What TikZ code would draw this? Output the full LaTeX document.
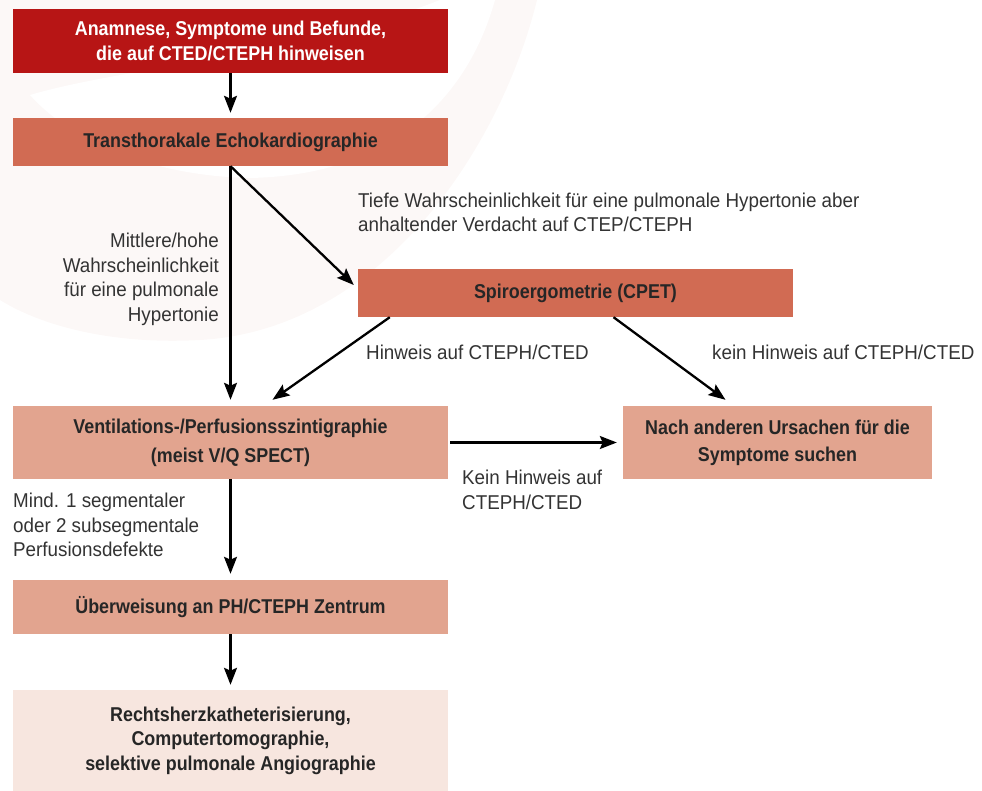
\documentclass[tikz,border=0pt]{standalone}
\usepackage{fontspec}
\usepackage{tikz}
\usetikzlibrary{arrows.meta,positioning}
\newfontfamily\labelfont[FakeStretch=0.94]{Liberation Sans}
\newfontfamily\boxfont[FakeStretch=0.895]{Liberation Sans}
\definecolor{startred}{HTML}{B71515}
\definecolor{midred}{HTML}{D16B53}
\definecolor{lightred}{HTML}{E2A48F}
\definecolor{palered}{HTML}{F7E6DF}
\definecolor{watermark}{HTML}{FCF8F7}
\definecolor{labelgray}{HTML}{333333}
\definecolor{boxtext}{HTML}{262626}

\begin{document}
\begin{tikzpicture}[x=1pt, y=-1pt, >={Stealth[length=17pt,width=13pt,inset=3pt]},
  stepbox/.style={minimum width=435pt, inner sep=0pt, align=center, text=boxtext,
    font=\boxfont\bfseries\fontsize{20}{24.5}\selectfont},
  lbl/.style={inner sep=0pt, text=labelgray, font=\labelfont\fontsize{20}{24.5}\selectfont},
  flow/.style={->, line width=2.3pt}]
\useasboundingbox (0,0) rectangle (982,791);
% watermark in the background
\fill[watermark] (0,0) -- (537,0) .. controls (500,150) and (380,330) .. (200,340)
  .. controls (110,345) and (40,325) .. (0,300) -- cycle;
\fill[white] (30,95) .. controls (120,68) and (300,55) .. (440,0) -- (495,0)
  .. controls (470,90) and (400,175) .. (250,178)
  .. controls (150,176) and (70,140) .. (30,95) -- cycle;

% boxes
\node[stepbox, fill=startred, text=white, minimum height=64pt] (start) at (230.5,41)
  {Anamnese, Symptome und Befunde,\\die auf CTED/CTEPH hinweisen};
\node[stepbox, fill=midred, minimum height=48pt] (echo) at (230.5,142)
  {Transthorakale Echokardiographie};
\node[stepbox, fill=midred, minimum height=48pt] (spiro) at (575.5,293)
  {Spiroergometrie (CPET)};
\node[stepbox, fill=lightred, minimum height=73pt,
  font=\boxfont\bfseries\fontsize{20}{29}\selectfont] (vq) at (230.5,442.5)
  {Ventilations-/Perfusionsszintigraphie\\(meist V/Q SPECT)};
\node[stepbox, fill=lightred, minimum width=309pt, minimum height=73pt,
  font=\boxfont\bfseries\fontsize{20}{27}\selectfont] (other) at (777.5,442.5)
  {Nach anderen Ursachen für die\\Symptome suchen};
\node[stepbox, fill=lightred, minimum height=54pt] (centre) at (230.5,607)
  {Überweisung an PH/CTEPH Zentrum};
\node[stepbox, fill=palered, minimum height=101pt] (rhc) at (230.5,740.5)
  {Rechtsherzkatheterisierung,\\Computertomographie,\\selektive pulmonale Angiographie};

% labels
\node[lbl, anchor=west, align=left] (lowprob) at (358,212.5)
  {Tiefe Wahrscheinlichkeit für eine pulmonale Hypertonie aber\\anhaltender Verdacht auf CTEP/CTEPH};
\node[lbl, anchor=east, align=right] (highprob) at (219,279.5)
  {Mittlere/hohe\\Wahrscheinlichkeit\\für eine pulmonale\\Hypertonie};
\node[lbl, anchor=west] (hint) at (366,352) {Hinweis auf CTEPH/CTED};
\node[lbl, anchor=west] (nohint) at (712,352) {kein Hinweis auf CTEPH/CTED};
\node[lbl, anchor=west, align=left] (nohintvq) at (462,490) {Kein Hinweis auf\\CTEPH/CTED};
\node[lbl, anchor=west, align=left] (defects) at (13,525)
  {Mind. 1 segmentaler\\oder 2 subsegmentale\\Perfusionsdefekte};

% arrows
\draw[flow, shorten >=5pt] (start) -- (echo);
\draw[flow, shorten >=6pt] (echo) -- (vq);
\draw[flow] (echo.south) -- ([xshift=-4pt,yshift=8pt]spiro.west);
\draw[flow] ([xshift=32pt]spiro.south west) -- ([xshift=42pt,yshift=6pt]vq.north);
\draw[flow] ([xshift=38pt]spiro.south) -- ([xshift=-52pt,yshift=6pt]other.north);
\draw[flow] ([xshift=2pt]vq.east) -- ([xshift=-6pt]other.west);
\draw[flow, shorten >=6pt] (vq) -- (centre);
\draw[flow, shorten >=5pt] (centre) -- (rhc);
\end{tikzpicture}
\end{document}
